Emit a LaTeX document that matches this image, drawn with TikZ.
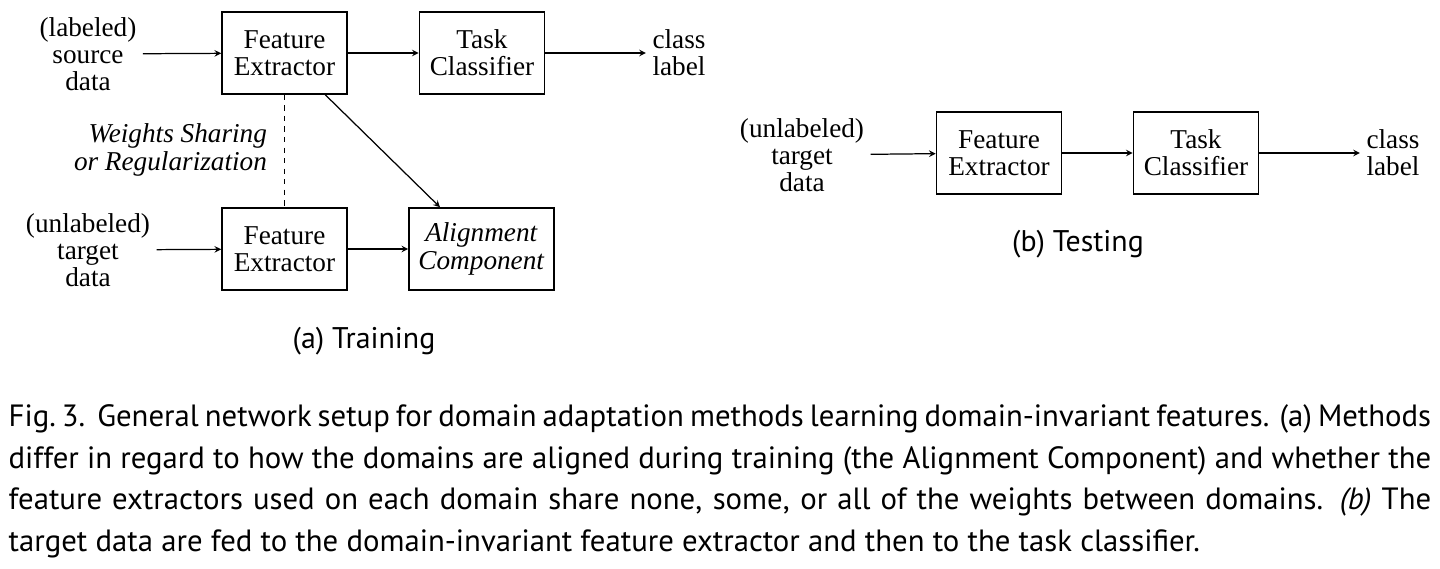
\documentclass[tikz,border=0pt]{standalone}
\usepackage{fontspec}
\setmainfont{Liberation Serif}
\setsansfont{PT Sans}
\usetikzlibrary{positioning}
\begin{document}
\begin{tikzpicture}[thick,
    box/.style={draw,line width=0.9pt,minimum width=2.5cm,minimum height=1.64cm,align=center,font=\fontsize{15.5}{15.5}\selectfont},
    txt/.style={align=center,font=\fontsize{15.5}{15.5}\selectfont},
    arr/.style={->,line width=0.7pt,>=stealth}]
        \useasboundingbox (0,0) rectangle (28.8,-11.36);
        % (a) training
        \node[txt] (src) at (1.76,-1.08) {(labeled)\\source\\data};
        \node[box] (fe1) at (5.69,-1.06) {Feature\\Extractor};
        \node[box] (tc1) at (9.64,-1.06) {Task\\Classifier};
        \node[txt] (cl1) at (13.58,-1.06) {class\\label};
        \node[txt] (tgt) at (1.76,-5.0) {(unlabeled)\\target\\data};
        \node[box] (fe2) at (5.69,-4.98) {Feature\\Extractor};
        \node[box,minimum width=2.9cm] (ac) at (9.63,-4.98) {\textit{Alignment}\\\textit{Component}};
        \node[txt,align=right,anchor=east] (ws) at (5.47,-3.0) {\textit{Weights Sharing}\\\textit{or Regularization}};
        \node[font=\sffamily\fontsize{17}{20}\selectfont] (capa) at (7.28,-6.82) {(a) Training};
        \draw[arr] (src) -- (fe1);
        \draw[arr] (fe1) -- (tc1);
        \draw[arr] (tc1) -- (cl1);
        \draw[arr] (tgt) -- (fe2);
        \draw[arr] (fe2) -- (ac);
        \draw[arr] (fe1.south east) ++(-0.45,0) coordinate (p) (p) -- (ac.north -| 8.8,0);
        \draw[dashed,line width=0.7pt] (fe1) -- (fe2);
        % (b) testing
        \node[txt] (tgt2) at (16.04,-3.1) {(unlabeled)\\target\\data};
        \node[box] (fe3) at (19.98,-3.06) {Feature\\Extractor};
        \node[box] (tc3) at (23.92,-3.06) {Task\\Classifier};
        \node[txt] (cl3) at (27.86,-3.06) {class\\label};
        \node[font=\sffamily\fontsize{17}{20}\selectfont] (capb) at (21.56,-4.88) {(b) Testing};
        \draw[arr] (tgt2) -- (fe3);
        \draw[arr] (fe3) -- (tc3);
        \draw[arr] (tc3) -- (cl3);
        % caption
        \node[anchor=north west,inner sep=0pt,text width=28.45cm,align=justify,
              font=\sffamily\fontsize{17.5}{23.6}\selectfont] (cap) at (0.16,-8.08)
            {Fig.~3.\ \ General network setup for domain adaptation methods learning domain-invariant features. (a) Methods differ in regard to how the domains are aligned during training (the Alignment Component) and whether the feature extractors used on each domain share none, some, or all of the weights between domains. \textit{(b)} The target data are fed to the domain-invariant feature extractor and then to the task classifier.\par};
\end{tikzpicture}
\end{document}
